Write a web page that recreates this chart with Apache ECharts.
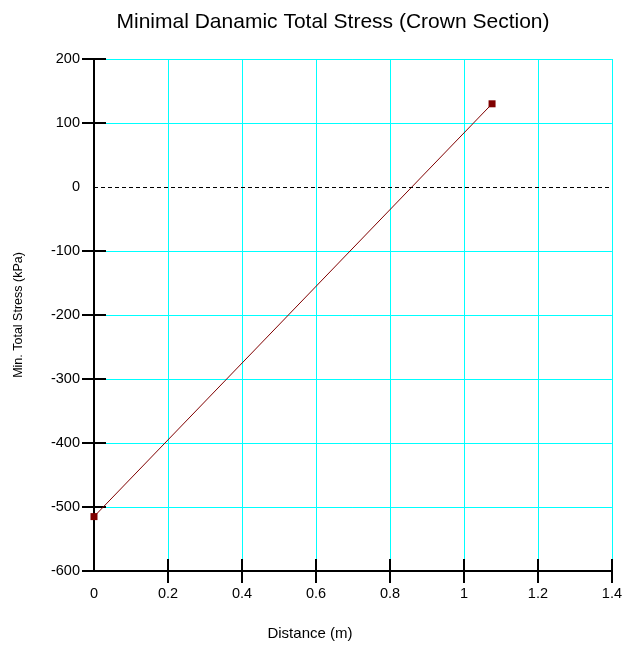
<!DOCTYPE html>
<html>
<head>
<meta charset="utf-8">
<script src="https://cdn.jsdelivr.net/npm/echarts@6/dist/echarts.min.js"></script>
<style>
html,body{margin:0;padding:0;background:#fff;}
#chart{width:625px;height:646px;}
</style>
</head>
<body>
<div id="chart"></div>
<script>
// Minimum dynamic total stress along the crown section
var distance = [0, 1.076];
var stress = [-515, 130];

var xTicks = {min: 0, max: 1.4, interval: 0.2};
var yTicks = {min: -600, max: 200, interval: 100};
// tick marks are drawn everywhere except at the axis origin / zero line
var xTickMarks = [0.2, 0.4, 0.6, 0.8, 1, 1.2, 1.4];
var yTickMarks = [-600, -500, -400, -300, -200, -100, 100, 200];

var FONT = '"Liberation Sans", Arial, sans-serif';
var GRID_COLOR = '#00ffff';

var chart = echarts.init(document.getElementById('chart'));

function xAxisDef(inside, main) {
  return {
    type: 'value', min: xTicks.min, max: xTicks.max, interval: xTicks.interval,
    position: 'bottom',
    name: main ? 'Distance (m)' : '',
    nameLocation: 'middle', nameGap: 55,
    nameTextStyle: {color: '#000', fontSize: 15, fontFamily: FONT, padding: [0, 86, 0, 0]},
    axisLine: {show: main, onZero: false, lineStyle: {color: '#000', width: 2}},
    axisTick: {show: true, inside: inside, length: 12, customValues: xTickMarks,
      lineStyle: {color: '#000', width: 2}},
    axisLabel: {show: main, color: '#000', fontSize: 14.5, fontFamily: FONT, margin: 15,
      formatter: function (v) { return String(+v.toFixed(1)); }},
    splitLine: {show: main, lineStyle: {color: GRID_COLOR, width: 1}}
  };
}

function yAxisDef(inside, main) {
  return {
    type: 'value', min: yTicks.min, max: yTicks.max, interval: yTicks.interval,
    position: 'left',
    name: main ? 'Min. Total Stress (kPa)' : '',
    nameLocation: 'middle', nameGap: 69, nameRotate: 90,
    nameTextStyle: {color: '#000', fontSize: 12.5, fontFamily: FONT},
    axisLine: {show: main, onZero: false, lineStyle: {color: '#000', width: 2}},
    axisTick: {show: true, inside: inside, length: 12, customValues: yTickMarks,
      lineStyle: {color: '#000', width: 2}},
    axisLabel: {show: main, color: '#000', fontSize: 14.5, fontFamily: FONT, margin: 14},
    splitLine: {show: main, lineStyle: {color: GRID_COLOR, width: 1}}
  };
}

chart.setOption({
  animation: false,
  backgroundColor: '#fff',
  title: {
    text: 'Minimal Danamic Total Stress (Crown Section)',
    left: 328, top: 7, textAlign: 'center',
    textStyle: {color: '#000', fontSize: 21, fontWeight: 'normal', fontFamily: FONT}
  },
  grid: {left: 94, right: 13, top: 59, bottom: 74},
  xAxis: [xAxisDef(false, true), xAxisDef(true, false)],
  yAxis: [yAxisDef(false, true), yAxisDef(true, false)],
  series: [{
    type: 'line',
    xAxisIndex: 0, yAxisIndex: 0,
    data: distance.map(function (d, i) { return [d, stress[i]]; }),
    symbol: 'rect', symbolSize: 7,
    itemStyle: {color: '#800000'},
    lineStyle: {color: '#800000', width: 1},
    markLine: {
      silent: true, symbol: 'none', label: {show: false},
      lineStyle: {color: '#000', width: 1, type: [4, 3]},
      data: [{yAxis: 0}]
    }
  }]
});
</script>
</body>
</html>
